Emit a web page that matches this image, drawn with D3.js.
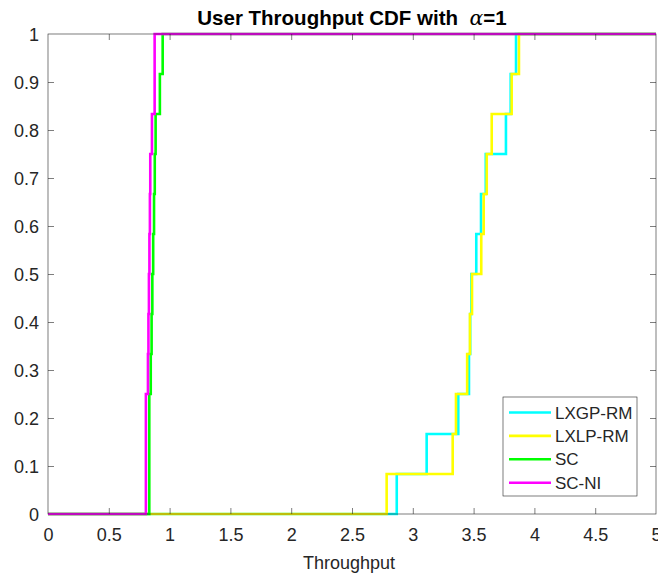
<!DOCTYPE html>
<html>
<head>
<meta charset="utf-8">
<script src="https://cdn.jsdelivr.net/npm/d3@7/dist/d3.min.js"></script>
<style>
  html, body { margin: 0; padding: 0; background: #fff; }
  svg { display: block; font-family: "Liberation Sans", Arial, Helvetica, sans-serif; }
</style>
</head>
<body>
<svg id="chart" width="658" height="578"></svg>
<script>
// ---- data (throughput samples per scheme, read from the CDF steps) ----
const seriesNames = ["LXGP-RM", "LXLP-RM", "SC", "SC-NI"];
const seriesColors = ["#00ffff", "#ffff00", "#00ff00", "#ff00ff"];
const lxgpRM = [2.868, 3.114, 3.374, 3.462, 3.472, 3.482, 3.522, 3.561, 3.600, 3.766, 3.805, 3.849];
const lxlpRM = [2.785, 3.328, 3.355, 3.447, 3.470, 3.487, 3.563, 3.583, 3.608, 3.649, 3.813, 3.873];
const sc     = [0.833, 0.833, 0.833, 0.845, 0.852, 0.858, 0.865, 0.872, 0.878, 0.885, 0.920, 0.943];
const scNI   = [0.805, 0.805, 0.805, 0.822, 0.826, 0.830, 0.834, 0.838, 0.841, 0.855, 0.877, 0.877];
const xTicks = [0, 0.5, 1, 1.5, 2, 2.5, 3, 3.5, 4, 4.5, 5];
const yTicks = [0, 0.1, 0.2, 0.3, 0.4, 0.5, 0.6, 0.7, 0.8, 0.9, 1];
const xDomain = [0, 5];
const yDomain = [0, 1];

const allSeries = [lxgpRM, lxlpRM, sc, scNI];

// ---- layout ----
const L = 48, R = 656, T = 34, B = 514;
const svg = d3.select("#chart");
const x = d3.scaleLinear().domain(xDomain).range([L, R]);
const y = d3.scaleLinear().domain(yDomain).range([B, T]);
const axisColor = "#262626";
const fontSize = 18;

// empirical CDF points
function ecdfPoints(vals) {
  const s = vals.slice().sort(d3.ascending);
  const n = s.length;
  const pts = [[xDomain[0], 0]];
  s.forEach((v, i) => pts.push([v, (i + 1) / n]));
  pts.push([xDomain[1], 1]);
  return pts;
}

const line = d3.line().x(d => x(d[0])).y(d => y(d[1])).curve(d3.curveStepAfter);

const clipId = "plotclip";
svg.append("defs").append("clipPath").attr("id", clipId)
  .append("rect").attr("x", L - 2).attr("y", T - 2).attr("width", R - L + 4).attr("height", B - T + 4);

// series
const gLines = svg.append("g").attr("clip-path", `url(#${clipId})`);
allSeries.forEach((vals, i) => {
  gLines.append("path")
    .attr("d", line(ecdfPoints(vals)))
    .attr("fill", "none")
    .attr("stroke", seriesColors[i])
    .attr("stroke-width", 2.6)
    .attr("stroke-linejoin", "miter");
});

// axes box
svg.append("rect")
  .attr("x", L).attr("y", T).attr("width", R - L).attr("height", B - T)
  .attr("fill", "none").attr("stroke", axisColor).attr("stroke-width", 0.6);

// bottom axis (ticks inward)
const xAxisB = d3.axisBottom(x).tickValues(xTicks).tickSize(-6).tickPadding(12).tickFormat(d3.format("~g"));
const gxb = svg.append("g").attr("transform", `translate(0,${B})`).call(xAxisB);
const xAxisT = d3.axisTop(x).tickValues(xTicks).tickSize(-6).tickFormat("");
const gxt = svg.append("g").attr("transform", `translate(0,${T})`).call(xAxisT);
const yAxisL = d3.axisLeft(y).tickValues(yTicks).tickSize(-6).tickPadding(9).tickFormat(d3.format("~g"));
const gyl = svg.append("g").attr("transform", `translate(${L},0)`).call(yAxisL);
const yAxisR = d3.axisRight(y).tickValues(yTicks).tickSize(-6).tickFormat("");
const gyr = svg.append("g").attr("transform", `translate(${R},0)`).call(yAxisR);

[gxb, gxt, gyl, gyr].forEach(g => {
  g.select(".domain").remove();
  g.selectAll(".tick line").attr("stroke", axisColor).attr("stroke-width", 0.6);
  g.selectAll(".tick text").attr("fill", axisColor)
    .style("font-size", fontSize + "px")
    .style("font-family", '"Liberation Sans", Arial, Helvetica, sans-serif');
});
gxb.selectAll(".tick text").attr("dy", null).attr("y", 27).attr("dominant-baseline", "auto");
gyl.selectAll(".tick text").attr("dy", "0.36em");
// hide ticks at the box corners (they coincide with the frame)
[gxb, gxt].forEach(g => g.selectAll(".tick line").filter(d => d === xDomain[0] || d === xDomain[1]).remove());
[gyl, gyr].forEach(g => g.selectAll(".tick line").filter(d => d === yDomain[0] || d === yDomain[1]).remove());

// x label
svg.append("text")
  .attr("x", (L + R) / 2 - 3).attr("y", 569)
  .attr("text-anchor", "middle")
  .attr("fill", axisColor)
  .style("font-size", fontSize + "px")
  .text("Throughput");

// title
const title = svg.append("text")
  .attr("x", (L + R) / 2).attr("y", 25)
  .attr("text-anchor", "middle")
  .attr("fill", "#000")
  .style("font-size", "20.5px")
  .style("font-weight", "bold");
title.append("tspan").text("User Throughput CDF with\u00a0\u00a0");
title.append("tspan").text("α")
  .style("font-family", '"DejaVu Serif", "Liberation Serif", serif')
  .style("font-style", "italic")
  .style("font-weight", "normal");
title.append("tspan").text("=1");

// legend
const lgX = 503, lgY = 397, lgW = 134, lgH = 99;
const lg = svg.append("g");
lg.append("rect")
  .attr("x", lgX).attr("y", lgY).attr("width", lgW).attr("height", lgH)
  .attr("fill", "#fff").attr("stroke", axisColor).attr("stroke-width", 0.6);
seriesNames.forEach((name, i) => {
  const cy = lgY + 15.5 + i * 23.4;
  lg.append("line")
    .attr("x1", lgX + 6).attr("x2", lgX + 48)
    .attr("y1", cy).attr("y2", cy)
    .attr("stroke", seriesColors[i]).attr("stroke-width", 2.6);
  lg.append("text")
    .attr("x", lgX + 52).attr("y", cy).attr("dy", "0.36em")
    .attr("fill", axisColor)
    .style("font-size", "17px")
    .text(name);
});
</script>
</body>
</html>
